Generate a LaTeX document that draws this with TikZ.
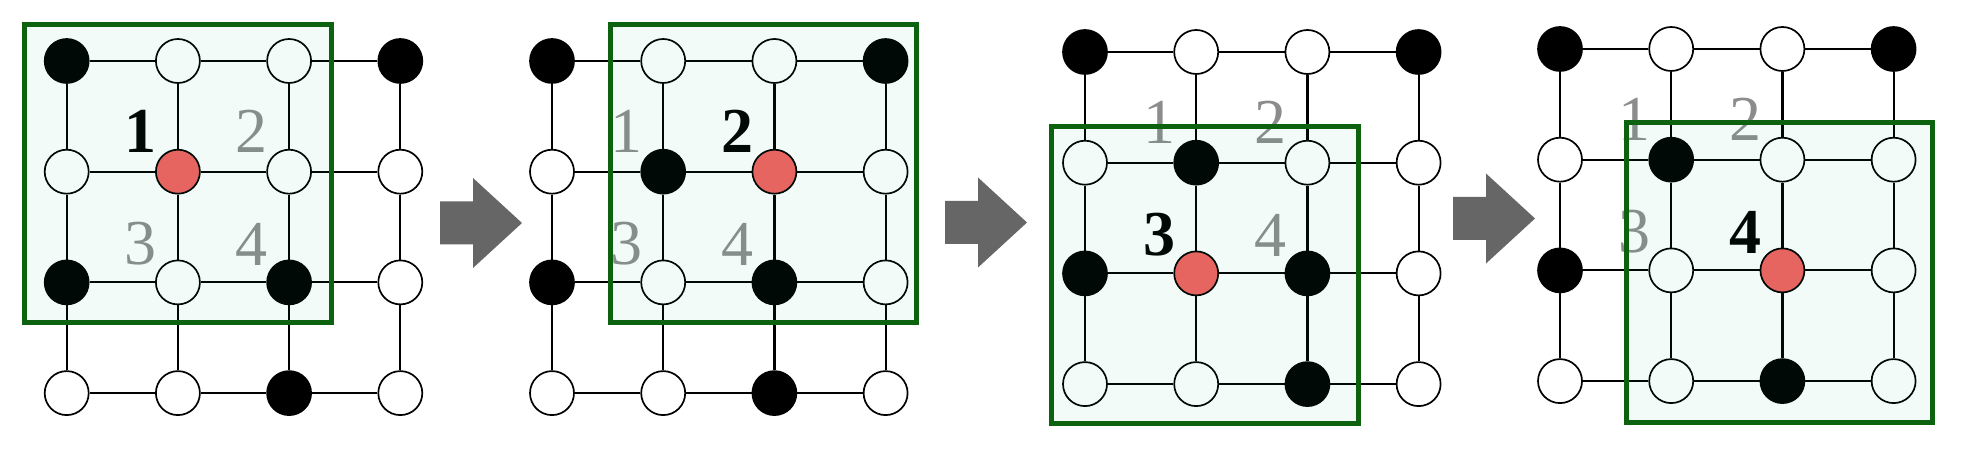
\documentclass[tikz,border=0pt]{standalone}
\usepackage{fontspec}
\setmainfont{Liberation Serif}
\definecolor{redn}{RGB}{242,96,96}
\definecolor{boxgreen}{RGB}{12,98,14}
\definecolor{mint}{RGB}{36,196,127}
\definecolor{lblgray}{RGB}{140,140,140}
\definecolor{arrowgray}{RGB}{102,102,102}
\tikzset{
  gnode/.style={circle,draw=black,line width=0.85pt,minimum size=22pt,inner sep=0pt},
  bnd/.style={gnode,fill=black},
  wnd/.style={gnode,fill=white},
  rnd/.style={gnode,fill=redn},
  edge/.style={line width=1.1pt,draw=black},
  win/.style={draw=boxgreen,line width=2.5pt,fill=mint,fill opacity=0.05},
  blbl/.style={inner sep=0pt,font=\fontsize{32}{32}\selectfont\bfseries,text=black},
  glbl/.style={inner sep=0pt,font=\fontsize{32}{32}\selectfont,text=lblgray},
  blk/.style={fill=arrowgray,draw=none}
}
\newcommand{\gridpanel}[7]{%
  % #1 id, #2 x0, #3 y0, #4 red col, #5 red row, #6 bold label, #7 window
  \def\tB{B}%
  \foreach \r/\row in {0/{B,W,W,B},1/{W,B,W,W},2/{B,W,B,W},3/{W,W,B,W}} {
    \foreach \t [count=\c from 0] in \row {
      \def\isred{0}%
      \ifnum\c=#4\relax\ifnum\r=#5\relax\def\isred{1}\fi\fi
      \ifnum\isred=1\relax
        \node[rnd] (#1-\c-\r) at ({#2+\c*111.2},{#3+\r*110.7}) {};
      \else
        \ifx\t\tB
          \node[bnd] (#1-\c-\r) at ({#2+\c*111.2},{#3+\r*110.7}) {};
        \else
          \node[wnd] (#1-\c-\r) at ({#2+\c*111.2},{#3+\r*110.7}) {};
        \fi
      \fi
    }
  }
  \foreach \r in {0,...,3} {
    \foreach \c [evaluate=\c as \cn using int(\c+1)] in {0,1,2} {
      \draw[edge] (#1-\c-\r) -- (#1-\cn-\r);
      \draw[edge] (#1-\r-\c) -- (#1-\r-\cn);
    }
  }
  \foreach \k/\dx/\dy in {1/74/70,2/185/70,3/74/183,4/185/183} {
    \ifnum\k=#6\relax
      \node[blbl] (#1-l\k) at ({#2+\dx},{#3+\dy}) {\k};
    \else
      \node[glbl] (#1-l\k) at ({#2+\dx},{#3+\dy}) {\k};
    \fi
  }
  \draw[win] #7;
}
\newcommand{\blockarrow}[2]{%
  % #1 tail x, #2 centre y
  \fill[blk] (#1,#2-21.5) -- ++(33,0) -- ++(0,-23.5) -- ++(49,45) -- ++(-49,45)
     -- ++(0,-23.5) -- ++(-33,0) -- cycle;
}
\begin{document}
\begin{tikzpicture}[x=0.5pt,y=-0.5pt]
\useasboundingbox[fill=white] (0,0) rectangle (1984,458);
\gridpanel{a}{66.7}{61}{1}{1}{1}{(24.5,25) rectangle (331,322.5)}
\gridpanel{b}{552}{61}{2}{1}{2}{(610,25) rectangle (916.7,322.5)}
\gridpanel{c}{1085}{52}{1}{2}{3}{(1051.7,126.3) rectangle (1358,424)}
\gridpanel{d}{1560}{49}{2}{2}{4}{(1626.5,122.5) rectangle (1932.5,422.5)}
\blockarrow{440}{223}
\blockarrow{945}{222.5}
\blockarrow{1453}{218.5}
\end{tikzpicture}
\end{document}
